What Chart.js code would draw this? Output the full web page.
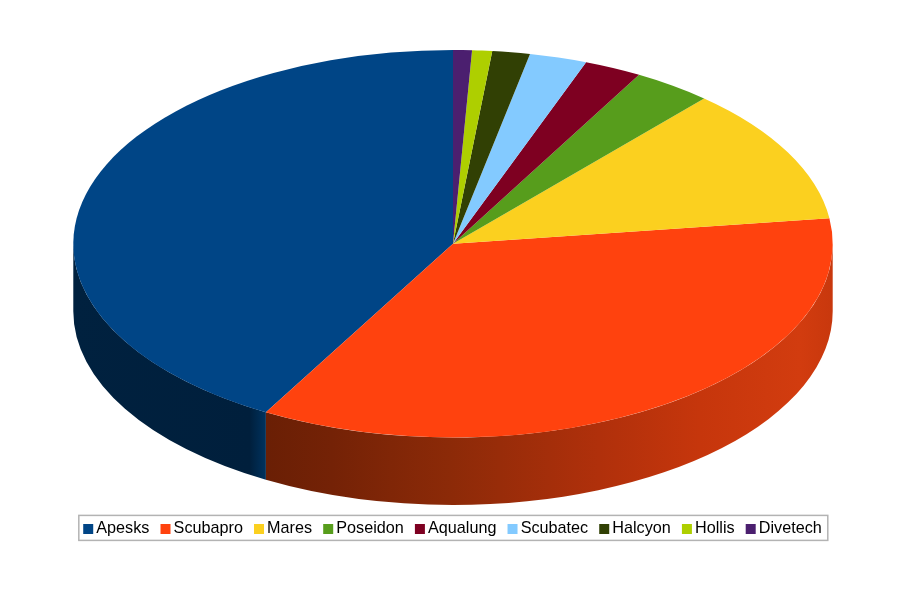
<!DOCTYPE html>
<html>
<head>
<meta charset="utf-8">
<style>html,body{margin:0;padding:0;background:#fff}canvas{display:block}</style>
<script src="https://cdn.jsdelivr.net/npm/chart.js@4"></script>
</head>
<body>
<canvas id="c" width="922" height="604"></canvas>
<script>
const categories = ['Apesks','Scubapro','Mares','Poseidon','Aqualung','Scubatec','Halcyon','Hollis','Divetech'];
const shares = [41.8,35.3,11.4,3.35,2.45,2.45,1.6,0.85,0.8];
const colours = ['#004586','#ff420e','#fbd01f','#579d1c','#7e0021','#83caff','#314004','#aecf00','#4b1f6f'];

const disc = {cx:453, cy:243.75, rx:379.7, ry:193.75, depth:67.5};
const wallShades = [
  [[0,'#00213f'],[0.232,'#001f3c'],[0.254,'#00335f']],
  [[0.254,'#6a1f05'],[0.34,'#742206'],[0.496,'#8c2a08'],[0.693,'#b0300b'],[0.825,'#c6360c'],[0.957,'#d23c0f'],[1,'#c8380d']]
];

const tiltedPie = {
  id:'tiltedPie',
  beforeDatasetsDraw(chart){
    const ctx = chart.ctx, d = disc;
    const arcs = chart.getDatasetMeta(0).data;
    arcs.forEach((el,i)=>{
      const a0 = Math.max(0, Math.PI - el.endAngle);
      const a1 = Math.min(Math.PI, Math.PI - el.startAngle);
      if (a1 <= a0) return;
      const g = ctx.createLinearGradient(d.cx-d.rx,0,d.cx+d.rx,0);
      (wallShades[i]||[[0,'#333'],[1,'#333']]).forEach(s=>g.addColorStop(s[0],s[1]));
      ctx.beginPath();
      ctx.ellipse(d.cx,d.cy+d.depth,d.rx,d.ry,0,a0,a1,false);
      ctx.ellipse(d.cx,d.cy,d.rx,d.ry,0,a1,a0,true);
      ctx.closePath();
      ctx.fillStyle = g;
      ctx.fill();
    });
    const el = arcs[0], R = el.outerRadius;
    ctx.save();
    ctx.translate(d.cx,d.cy);
    ctx.scale(-d.rx/R,d.ry/R);
    ctx.translate(-el.x,-el.y);
  },
  afterDatasetsDraw(chart){ chart.ctx.restore(); },
  afterDraw(chart){
    const hb = chart.legend.legendHitBoxes, ctx = chart.ctx;
    const left = Math.min(...hb.map(b=>b.left)), right = Math.max(...hb.map(b=>b.left+b.width));
    const top = hb[0].top, h = hb[0].height;
    ctx.save();
    ctx.strokeStyle = '#b3b3b3';
    ctx.lineWidth = 1.5;
    ctx.strokeRect(left-9.4, top+h/2-12.5-1, right-left+15.4, 25);
    ctx.restore();
  }
};

new Chart(document.getElementById('c'),{
  type:'pie',
  data:{labels:categories,datasets:[{data:shares,backgroundColor:colours,borderWidth:0,clip:false}]},
  plugins:[tiltedPie],
  options:{
    responsive:false,
    animation:false,
    devicePixelRatio:1,
    layout:{padding:{left:0,right:12,top:0,bottom:57}},
    plugins:{
      tooltip:{enabled:false},
      legend:{
        position:'bottom',
        labels:{
          usePointStyle:true,pointStyle:'rect',boxWidth:0.01,boxHeight:10,padding:16.1,
          color:'#000',
          font:{family:'"Liberation Sans"',size:16.2}
        }
      }
    }
  }
});
</script>
</body>
</html>
